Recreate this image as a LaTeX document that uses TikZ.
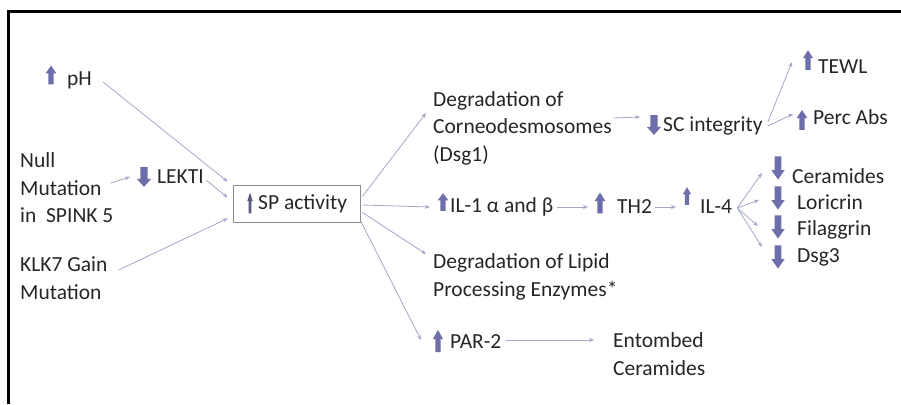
\documentclass[tikz,border=0pt]{standalone}
\usepackage{fontspec}
\setmainfont{Carlito}
\usetikzlibrary{arrows.meta}
\definecolor{txt}{HTML}{262626}
\definecolor{iconc}{HTML}{6E6EAA}
\definecolor{connc}{HTML}{A4A8C8}
\definecolor{boxc}{HTML}{8A8A8A}
\definecolor{spic}{HTML}{5A5A80}
\begin{document}
\begin{tikzpicture}[x=1pt,y=-1pt,
  lbl/.style={anchor=west,inner sep=0pt,text=txt,font=\fontsize{21.5}{27.5}\selectfont,align=left},
  conn/.style={draw=connc,line width=0.8pt,-{Stealth[length=5pt,width=4pt]}},
  upar/.pic={\fill[iconc] (0,-11) -- (6,-2) -- (3,-2) -- (3,11) -- (-3,11) -- (-3,-2) -- (-6,-2) -- cycle;},
  spar/.pic={\fill[spic] (0,-11) -- (6,-2) -- (3,-2) -- (3,11) -- (-3,11) -- (-3,-2) -- (-6,-2) -- cycle;},
  dnar/.pic={\fill[iconc] (0,11) -- (6,2) -- (3,2) -- (3,-11) -- (-3,-11) -- (-3,2) -- (-6,2) -- cycle;}]
\useasboundingbox (0,0) rectangle (901,404);
\fill[white] (0,0) rectangle (901,404);
\draw[line width=3pt] (8,404) -- (8,12) -- (901,12);
% left side
\node[lbl] (ph) at (67,80) {pH};
\pic[xscale=0.9,yscale=0.85] at (51,75) {upar};
\node[lbl] (null) at (20,188) {Null\\Mutation\\in\ \ SPINK 5};
\node[lbl] (lekti) at (157,177) {LEKTI};
\pic[xscale=1.2,yscale=0.9] at (144,177) {dnar};
\node[lbl] (klk) at (20,278) {KLK7 Gain\\Mutation};
\node[draw=boxc,line width=0.8pt,minimum width=127pt,minimum height=37pt,inner sep=0pt] (sp) at (296.5,203.5) {};
\node[lbl] (sptxt) at (258,204) {SP activity};
\pic[xscale=0.45,yscale=0.95] at (250,203) {spar};
% middle
\node[lbl] (corneo) at (433,128) {Degradation of\\Corneodesmosomes\\(Dsg1)};
\node[lbl] (il1) at (450,207) {IL-1 α and β};
\pic[xscale=0.9,yscale=0.8] at (443,202) {upar};
\node[lbl] (th2) at (617,207) {TH2};
\pic[xscale=0.9,yscale=0.95] at (600,203) {upar};
\node[lbl] (il4) at (700,207) {IL-4};
\pic[xscale=0.7,yscale=0.8] at (687,196) {upar};
\node[lbl] (lipid) at (433,277) {Degradation of Lipid\\Processing Enzymes*};
\node[lbl] (par) at (450,342) {PAR-2};
\pic[xscale=0.85,yscale=1.0] at (438,341) {upar};
\node[lbl] (ent) at (613,354) {Entombed\\Ceramides};
% right
\node[lbl] (sc) at (663,126) {SC integrity};
\pic[xscale=1.2,yscale=0.9] at (654,125) {dnar};
\node[lbl] (tewl) at (818,67) {TEWL};
\pic[xscale=0.85,yscale=0.9] at (808,60) {upar};
\node[lbl] (perc) at (813,117) {Perc Abs};
\pic[xscale=0.9,yscale=0.9] at (802,120) {upar};
\node[lbl] (cer) at (792,176) {Ceramides};
\pic[xscale=1.1,yscale=1.05] at (778,168) {dnar};
\node[lbl] (lor) at (797,202) {Loricrin};
\pic[xscale=1.1,yscale=1.05] at (778,198) {dnar};
\node[lbl] (fil) at (797,230) {Filaggrin};
\pic[xscale=1.1,yscale=1.05] at (778,227) {dnar};
\node[lbl] (dsg) at (797,257) {Dsg3};
\pic[xscale=1.1,yscale=1.05] at (778,257) {dnar};
% connectors
\draw[conn] ([xshift=11pt,yshift=-2pt]ph.east) -- ([xshift=-5pt,yshift=3pt]sp.north west);
\draw[conn] ([xshift=-3pt,yshift=5pt]null.east) -- ([xshift=-27pt]lekti.west);
\draw[conn] ([xshift=2pt,yshift=-3pt]lekti.east) -- ([xshift=-5pt,yshift=6pt]sp.west);
\draw[conn] ([xshift=11pt,yshift=8pt]klk.east) -- ([xshift=-5pt,yshift=4pt]sp.south west);
\draw[conn] ([xshift=2pt,yshift=7pt]sp.east) -- ([xshift=-7pt,yshift=15pt]corneo.west);
\draw[conn] ([xshift=2pt,yshift=-1.5pt]sp.east) -- ([xshift=-20pt]il1.west);
\draw[conn] ([xshift=2pt,yshift=-9pt]sp.east) -- ([xshift=-7pt,yshift=23pt]lipid.west);
\draw[conn] ([yshift=-17pt]sp.east) -- ([xshift=-29pt,yshift=2pt]par.west);
\draw[conn] ([xshift=2pt,yshift=10pt]corneo.east) -- ([xshift=-23pt,yshift=9pt]sc.west);
\draw[conn] ([xshift=5pt,yshift=4pt]sc.east) -- ([xshift=-26pt,yshift=5pt]tewl.west);
\draw[conn] ([xshift=5pt]sc.east) -- ([xshift=-20pt,yshift=3pt]perc.west);
\draw[conn] ([xshift=4pt]il1.east) -- ([xshift=-29pt]th2.west);
\draw[conn] ([xshift=3pt]th2.east) -- ([xshift=-24pt]il4.west);
\draw[conn] ([xshift=5pt,yshift=-1pt]il4.east) -- ([xshift=-30pt,yshift=3pt]cer.west);
\draw[conn] ([xshift=5pt,yshift=-1pt]il4.east) -- ([xshift=-38pt,yshift=2pt]lor.west);
\draw[conn] ([xshift=5pt,yshift=-1pt]il4.east) -- ([xshift=-39pt,yshift=4pt]fil.west);
\draw[conn] ([xshift=5pt,yshift=-1pt]il4.east) -- ([xshift=-35pt,yshift=10pt]dsg.west);
\draw[conn] ([xshift=4pt,yshift=2pt]par.east) -- ([xshift=-19pt,yshift=14pt]ent.west);
\end{tikzpicture}
\end{document}
